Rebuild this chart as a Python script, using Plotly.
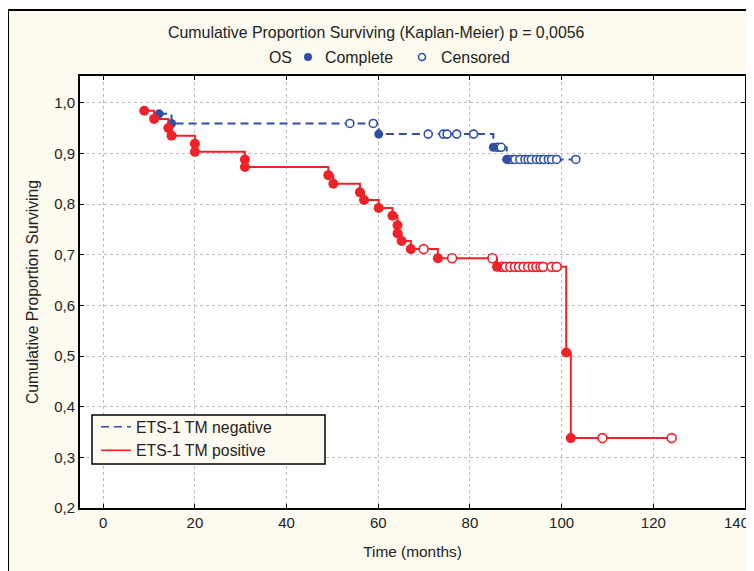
import plotly.graph_objects as go

# ---- data ----
neg_time = [12.2, 14.9, 53.8, 58.9, 60.1, 70.9, 74.2, 75.0, 77.1, 80.8, 85.1, 86.0, 86.8,
            88.0, 88.3, 89.1, 89.8, 90.9, 92.0, 92.7, 93.4, 94.5, 95.3, 96.1, 97.1, 97.8, 98.9, 103.1]
neg_surv = [0.978, 0.959, 0.959, 0.959, 0.938, 0.938, 0.938, 0.938, 0.938, 0.938, 0.912, 0.912, 0.912,
            0.888, 0.888, 0.888, 0.888, 0.888, 0.888, 0.888, 0.888, 0.888, 0.888, 0.888, 0.888, 0.888, 0.888, 0.888]
neg_cens = [0, 0, 1, 1, 0, 1, 1, 1, 1, 1, 0, 1, 1,
            0, 1, 1, 1, 1, 1, 1, 1, 1, 1, 1, 1, 1, 1, 1]

pos_time = [8.95, 11.1, 14.2, 14.9, 20.0, 20.0, 30.9, 30.9, 49.1, 50.2, 56.0, 56.9, 60.1, 63.1,
            64.2, 64.2, 65.1, 67.1, 69.9, 73.0, 76.1, 84.9, 85.9,
            86.9, 87.8, 88.8, 89.8, 90.7, 91.7, 92.7, 93.7, 94.5, 95.4, 96.0, 97.8, 98.9,
            101.0, 102.0, 108.9, 124.0]
pos_surv = [0.984, 0.968, 0.950, 0.935, 0.919, 0.903, 0.888, 0.873, 0.857, 0.840, 0.823, 0.808, 0.792, 0.777,
            0.758, 0.742, 0.727, 0.711, 0.711, 0.693, 0.693, 0.693, 0.676,
            0.676, 0.676, 0.676, 0.676, 0.676, 0.676, 0.676, 0.676, 0.676, 0.676, 0.676, 0.676, 0.676,
            0.507, 0.338, 0.338, 0.338]
pos_cens = [0, 0, 0, 0, 0, 0, 0, 0, 0, 0, 0, 0, 0, 0,
            0, 0, 0, 0, 1, 0, 1, 1, 0,
            1, 1, 1, 1, 1, 1, 1, 1, 1, 1, 1, 1, 1,
            0, 0, 1, 1]

x_ticks = [0, 20, 40, 60, 80, 100, 120, 140]
x_labels = ["0", "20", "40", "60", "80", "100", "120", "140"]
y_ticks = [0.2, 0.3, 0.4, 0.5, 0.6, 0.7, 0.8, 0.9, 1.0]
y_labels = ["0,2", "0,3", "0,4", "0,5", "0,6", "0,7", "0,8", "0,9", "1,0"]

RED = "#EE2228"
BLUE = "#2E4FA3"
CREAM = "#FDFAF0"
TXT = "#222222"
FONT = "Liberation Sans, Arial, sans-serif"

fig = go.Figure()


def add_curve(t, s, c, color, dash, name, fsize, osize):
    fig.add_trace(go.Scatter(x=t, y=s, mode="lines", line=dict(color=color, width=2, dash=dash, shape="hv"),
                             showlegend=False, hoverinfo="skip"))
    tc = [a for a, f in zip(t, c) if f == 1]
    sc = [b for b, f in zip(s, c) if f == 1]
    tf = [a for a, f in zip(t, c) if f == 0]
    sf = [b for b, f in zip(s, c) if f == 0]
    fig.add_trace(go.Scatter(x=tc, y=sc, mode="markers",
                             marker=dict(symbol="circle", size=osize, color="white", line=dict(color=color, width=1.6)),
                             showlegend=False, hoverinfo="skip"))
    fig.add_trace(go.Scatter(x=tf, y=sf, mode="markers",
                             marker=dict(symbol="circle", size=fsize, color=color, line=dict(width=0)),
                             showlegend=False, hoverinfo="skip"))
    fig.add_trace(go.Scatter(x=[None], y=[None], mode="lines", name=name,
                             line=dict(color=color, width=1.6, dash=dash)))


add_curve(neg_time, neg_surv, neg_cens, BLUE, "8px,5px", "ETS-1 TM negative", 9, 8)
add_curve(pos_time, pos_surv, pos_cens, RED, "solid", "ETS-1 TM positive", 10, 9)

# page has an 8px body margin; figure coordinates = page coordinates - 8
OFF = 8
W, H = 746, 563
L, T = 80 - OFF, 76 - OFF
R = W - (745 - OFF)
B = H - (508 - OFF)
pw, ph = W - L - R, H - T - B


def px(xpage):
    return (xpage - OFF - L) / pw


def py(ypage):
    return (H - B - (ypage - OFF)) / ph


shapes = [
    # black frame lines (top and left)
    dict(type="line", xref="paper", yref="paper", x0=px(7), x1=px(W + 40), y0=py(10), y1=py(10),
         line=dict(color="black", width=2)),
    dict(type="line", xref="paper", yref="paper", x0=px(8), x1=px(8), y0=py(10), y1=py(H + 40),
         line=dict(color="black", width=2)),
    # white strip above the frame
    dict(type="rect", xref="paper", yref="paper", x0=px(0), x1=px(W + 40), y0=py(9), y1=py(0),
         fillcolor="white", line=dict(width=0), layer="below"),
    # header markers
    dict(type="circle", xref="paper", yref="paper", xsizemode="pixel", ysizemode="pixel",
         xanchor=px(308), yanchor=py(57), x0=-4, x1=4, y0=-4, y1=4,
         fillcolor=BLUE, line=dict(color=BLUE, width=0)),
    dict(type="circle", xref="paper", yref="paper", xsizemode="pixel", ysizemode="pixel",
         xanchor=px(422), yanchor=py(57), x0=-3.5, x1=3.5, y0=-3.5, y1=3.5,
         fillcolor="white", line=dict(color=BLUE, width=1.6)),
    # legend box
    dict(type="rect", xref="paper", yref="paper", x0=px(92), x1=px(325), y0=py(464), y1=py(415),
         fillcolor=CREAM, line=dict(color="black", width=1.5), layer="above"),
]

annotations = [
    dict(text="Cumulative Proportion Surviving (Kaplan-Meier) p = 0,0056", xref="paper", yref="paper",
         x=px(376), y=py(32), xanchor="center", yanchor="middle", showarrow=False,
         font=dict(size=15.9, color=TXT)),
    dict(text="OS", xref="paper", yref="paper", x=px(267), y=py(57), xanchor="left", yanchor="middle",
         showarrow=False, font=dict(size=15.9, color=TXT)),
    dict(text="Complete", xref="paper", yref="paper", x=px(323), y=py(57), xanchor="left", yanchor="middle",
         showarrow=False, font=dict(size=15.9, color=TXT)),
    dict(text="Censored", xref="paper", yref="paper", x=px(439), y=py(57), xanchor="left", yanchor="middle",
         showarrow=False, font=dict(size=15.9, color=TXT)),
    # last x tick label, nudged left so it stays inside the page
    dict(text=x_labels[-1], xref="paper", yref="paper", x=px(751), y=py(522), xanchor="right",
         yanchor="middle", showarrow=False, font=dict(size=15, color=TXT)),
]

tick_text_axis = x_labels[:-1] + [""]

fig.update_layout(
    width=W, height=H,
    margin=dict(l=L, r=R, t=T, b=B, autoexpand=False),
    paper_bgcolor=CREAM, plot_bgcolor="white",
    font=dict(family=FONT, size=15, color=TXT),
    shapes=shapes, annotations=annotations,
    showlegend=True,
    legend=dict(x=px(96), y=py(410), xanchor="left", yanchor="top", bgcolor="rgba(0,0,0,0)",
                borderwidth=0, font=dict(size=15.8, color=TXT),
                tracegroupgap=0, itemwidth=30),
    xaxis=dict(range=[-5.07, 140], tickvals=x_ticks, ticktext=tick_text_axis, ticks="inside", ticklen=4,
               tickcolor="black",
               showline=True, linecolor="black", linewidth=2, mirror="ticks",
               showgrid=True, gridcolor="#BDBDBD", griddash="dot", gridwidth=1, zeroline=False,
               title=dict(text="Time (months)", standoff=16, font=dict(size=15.4)),
               tickfont=dict(size=15)),
    yaxis=dict(range=[0.2, 1.0527], tickvals=y_ticks, ticktext=y_labels, ticks="inside", ticklen=4,
               tickcolor="black", showline=True, linecolor="black", linewidth=2, mirror="ticks",
               showgrid=True, gridcolor="#BDBDBD", griddash="dot", gridwidth=1, zeroline=False,
               title=dict(text="Cumulative Proportion Surviving", standoff=12, font=dict(size=15.7)),
               tickfont=dict(size=15)),
)

fig.write_html("out.html")
